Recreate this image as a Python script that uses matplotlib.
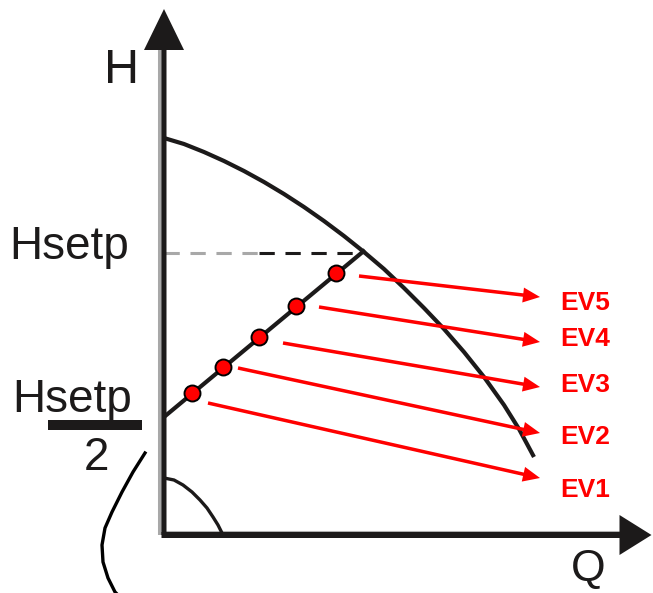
import matplotlib
matplotlib.use("Agg")
import matplotlib.pyplot as plt

# ---- data (Q, H); origin at the axes corner ----
pump_q = [0, 20, 40, 60, 80, 100, 120, 140, 160, 180, 200, 220, 240, 260, 280,
          300, 320, 340, 355, 370]
pump_h = [397, 391, 383, 374, 364, 353, 341, 328, 314, 299, 283, 266, 247, 227,
          206, 183, 158, 130, 106, 78]

ctrl_q = [0, 201]
ctrl_h = [118, 285]

setp_h = 282
setp_q_grey = [0, 95]
setp_q_black = [95, 199]

dot_q = [28, 59, 95, 132, 172]
dot_h = [142, 168, 198, 229, 262]

ev_labels = ["EV1", "EV2", "EV3", "EV4", "EV5"]
ev_start_q = [44, 74, 119, 155, 195]
ev_start_h = [132, 167, 192, 228, 259]
ev_end_q = [376, 376, 376, 376, 376]
ev_end_h = [57, 102, 148, 193, 238]
ev_label_h = [45, 98, 150, 196, 232]

small_q = [0, 10, 19, 28, 36, 43, 49, 54, 58]
small_h = [57, 55, 50, 43, 35, 27, 18, 10, 2]

side_q = [-19, -31, -42, -52, -59, -62, -61, -56, -49, -46]
side_h = [82, 63, 43, 23, 7, -10, -27, -43, -57, -60]

W, H = 653, 593
fig = plt.figure(figsize=(W / 100, H / 100), dpi=100)
ax = fig.add_axes([0, 0, 1, 1])
ax.set_xlim(-164, 489)
ax.set_ylim(-58, 535)
ax.axis("off")

dark = "#1c1a1a"
red = "#ff0000"

# axis shadows
ax.plot([-4.5, -4.5], [0, 485], color="#a8a8a8", lw=2.9, solid_capstyle="butt", zorder=1)
ax.plot([0, 456], [3.5, 3.5], color="#b0b0b0", lw=1.5, solid_capstyle="butt", zorder=1)

# axes with arrowheads
ax.arrow(0, 0, 0, 526, width=5, head_width=40, head_length=41,
         length_includes_head=True, color=dark, lw=0, zorder=3)
ax.arrow(-2.5, 0, 490, 0, width=6, head_width=40, head_length=32,
         length_includes_head=True, color=dark, lw=0, zorder=3)

# pump curve
ax.plot(pump_q, pump_h, color=dark, lw=3.0, solid_capstyle="butt",
        solid_joinstyle="round", zorder=2)
# small curve near origin
ax.plot(small_q, small_h, color=dark, lw=2.4, solid_joinstyle="round", zorder=2)
# side curve
ax.plot(side_q, side_h, color="black", lw=2.4, solid_joinstyle="round", zorder=2)

# set-point dashed line
ax.plot(setp_q_grey, [setp_h, setp_h], color="#a8a8a8", lw=2.2,
        dashes=(5, 3.5), zorder=2)
ax.plot(setp_q_black, [setp_h, setp_h], color=dark, lw=2.2,
        dashes=(5, 3.5), zorder=2)

# control line
ax.plot(ctrl_q, ctrl_h, color=dark, lw=3.0, solid_capstyle="butt", zorder=2)

# red dots
ax.plot(dot_q, dot_h, "o", ms=11.5, mfc=red, mec="black", mew=1.4, zorder=4)

# red arrows and labels
for lab, sq, sh, eq, eh, lh in zip(ev_labels, ev_start_q, ev_start_h,
                                   ev_end_q, ev_end_h, ev_label_h):
    ax.arrow(sq, sh, eq - sq, eh - sh, width=3.5, head_width=15, head_length=17,
             length_includes_head=True, color=red, lw=0, zorder=3)
    ax.text(396, lh, lab, color=red, fontsize=19, fontweight="bold",
            family="Liberation Sans", ha="left", va="center", zorder=5)

# texts
ax.text(-42, 452, "H", fontsize=35, family="Liberation Sans", color=dark,
        ha="center", va="baseline")
ax.text(424, -46, "Q", fontsize=32, family="Liberation Sans", color=dark,
        ha="center", va="baseline")
ax.text(-155, 276, "Hsetp", fontsize=33, family="Liberation Sans", color=dark,
        ha="left", va="baseline")
ax.text(-152, 123, "Hsetp", fontsize=33, family="Liberation Sans", color=dark,
        ha="left", va="baseline")
ax.plot([-116, -22], [110, 110], color=dark, lw=7.2, solid_capstyle="butt")
ax.text(-68, 65, "2", fontsize=33, family="Liberation Sans", color=dark,
        ha="center", va="baseline")

fig.savefig("out.png", dpi=100)
